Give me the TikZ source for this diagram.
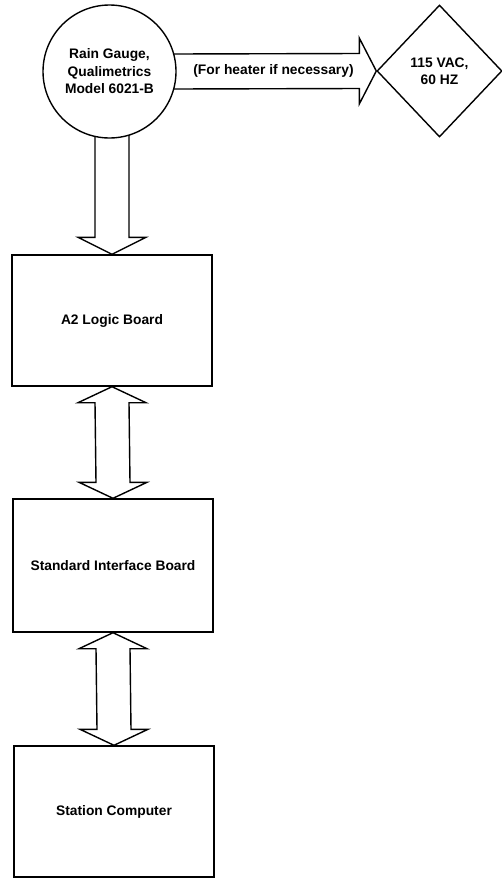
\documentclass[tikz,border=0pt]{standalone}
\usepackage{fontspec}
\setmainfont{Liberation Sans}
\usetikzlibrary{shapes.geometric,calc,backgrounds}
\begin{document}
\begin{tikzpicture}[x=1pt,y=-1pt,
  line width=1.4pt,
  every node/.style={font=\bfseries\fontsize{13.8}{17.5}\selectfont, align=center},
  boxnode/.style={draw, fill=white, line width=1.4pt, minimum width=200pt, minimum height=131pt, inner sep=0pt},
  gaugenode/.style={draw, fill=white, line width=1.4pt, circle, minimum size=133pt, inner sep=0pt},
  powernode/.style={draw, fill=white, line width=1.4pt, diamond, minimum width=125pt, minimum height=132pt, inner sep=0pt},
  blockarrow/.style={draw, line width=1.4pt, line join=miter, fill=white},
]
\useasboundingbox (0,0) rectangle (502,879);
\node[gaugenode] (gauge) at (109.5,71.5) {Rain Gauge,\\Qualimetrics\\Model 6021-B};
\node[powernode] (power) at (439.5,71) {115 VAC,\\60 HZ};
\node[boxnode] (a2) at (112,320.5) {A2 Logic Board};
\node[boxnode, minimum height=133pt] (sib) at (113,565.5) {Standard Interface Board};
\node[boxnode] (sc) at (114,811.5) {Station Computer};
\node (heat) at ($(gauge.east)!0.5!(power.west)+(-3,0)$) {(For heater if necessary)};
\begin{pgfonlayer}{background}
% gauge -> power (single arrow)
\draw[blockarrow] ($(gauge.east)+(-4,-17.5)$) -- ($(power.west)+(-17,-17.5)$) -- ++(0,-15.5)
  -- (power.west) -- ++(-17,33) -- ++(0,-15.5) -- ($(gauge.east)+(-4,17.5)$);
% gauge -> a2 (single arrow)
\draw[blockarrow] ($(a2.north |- gauge.south)+(-17,-4)$) -- ($(a2.north)+(-17,-17)$) -- ++(-17,0)
  -- (a2.north) -- ++(34,-17) -- ++(-17,0) -- ($(a2.north |- gauge.south)+(17,-4)$);
% a2 <-> sib (double arrow)
\draw[blockarrow] (a2.south) -- ++(34,16) -- ++(-17,0) -- ($(sib.north)+(17,-16)$) -- ++(17,0)
  -- (sib.north) -- ++(-34,-16) -- ++(17,0) -- ($(a2.south)+(-17,16)$) -- ++(-17,0) -- cycle;
% sib <-> sc (double arrow)
\draw[blockarrow] (sib.south) -- ++(34,16) -- ++(-17,0) -- ($(sc.north)+(17,-16)$) -- ++(17,0)
  -- (sc.north) -- ++(-34,-16) -- ++(17,0) -- ($(sib.south)+(-17,16)$) -- ++(-17,0) -- cycle;
\end{pgfonlayer}
\end{tikzpicture}
\end{document}
